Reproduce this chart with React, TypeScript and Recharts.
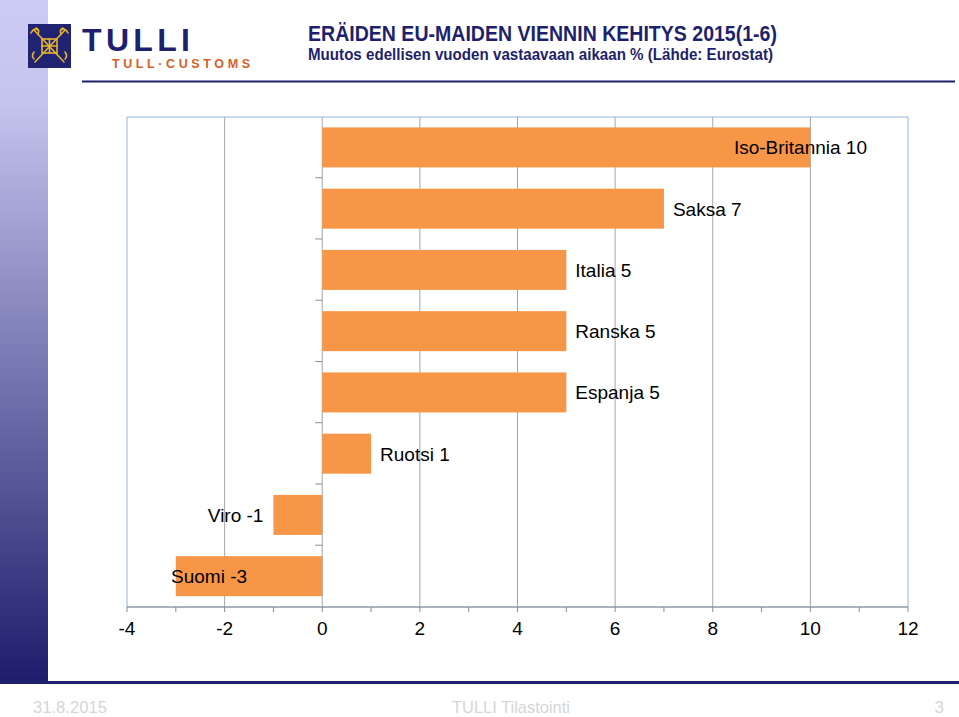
import React from 'react';
import { BarChart, Bar, XAxis, YAxis, CartesianGrid, ReferenceArea, LabelList } from 'recharts';

// vienti 2015(1-6), muutos % edellisen vuoden vastaavaan aikaan
const countries = ['Iso-Britannia', 'Saksa', 'Italia', 'Ranska', 'Espanja', 'Ruotsi', 'Viro', 'Suomi'];
const changes = [10, 7, 5, 5, 5, 1, -1, -3];
const xTicks = [-4, -3, -2, -1, 0, 1, 2, 3, 4, 5, 6, 7, 8, 9, 10, 11, 12];
const gridValues = [-2, 0, 2, 4, 6, 8, 10];

const FONT = '"Liberation Sans", Arial, Helvetica, sans-serif';
const NAVY = '#1e1f6d';
const BAR_COLOR = '#F79646';
const GRID_COLOR = '#a6a6a6';

const W = 959;
const H = 717;
const MARGIN = { top: 117, right: 51, left: 127, bottom: 80 };
const PLOT_LEFT = MARGIN.left;
const PLOT_RIGHT = W - MARGIN.right;
const GAP = 0.17;

const data = countries.map((name, i) => ({ name, change: changes[i] }));

const BarWithTick = (props: any) => {
  const { x, y, width, height, index } = props;
  const left = Math.min(x, x + width);
  const right = Math.max(x, x + width);
  const zeroX = changes[index] >= 0 ? left : right;
  // category axis tick between this bar and the next one
  const tickY = y + height + (height * GAP) / (1 - 2 * GAP);
  return (
    <g>
      <rect x={left} y={y} width={right - left} height={height} fill={BAR_COLOR} />
      {index < countries.length - 1 ? (
        <line x1={zeroX - 7} x2={zeroX} y1={tickY} y2={tickY} stroke="#8c8c8c" strokeWidth={1} />
      ) : null}
    </g>
  );
};

const BarLabel = (props: any) => {
  const { x, y, width, height, index } = props;
  const value = changes[index];
  const text = `${countries[index]} ${value}`;
  const estWidth = text.length * 8.4;
  const left = Math.min(x, x + width);
  const right = Math.max(x, x + width);
  const cy = y + height / 2;
  let lx: number;
  let anchor: 'start' | 'end';
  if (value >= 0) {
    lx = right + 9;
    anchor = 'start';
    if (lx + estWidth > PLOT_RIGHT - 41) {
      lx = PLOT_RIGHT - 41;
      anchor = 'end';
    }
  } else {
    lx = left - 10;
    anchor = 'end';
    if (lx - estWidth < PLOT_LEFT + 44) {
      lx = PLOT_LEFT + 44;
      anchor = 'start';
    }
  }
  return (
    <text x={lx} y={cy} dy="0.36em" textAnchor={anchor} fontSize={19} fontFamily={FONT} fill="#000">
      {text}
    </text>
  );
};

const Emblem = () => (
  <g>
    <rect x={28} y={24} width={43} height={44} fill="#1f2372" />
    <g stroke="#e6b62a" strokeWidth={1.6} fill="none" strokeLinecap="round">
      <line x1={34} y1={30} x2={64} y2={62} />
      <line x1={65} y1={30} x2={35} y2={62} />
      <rect x={42} y={39} width={15} height={14} />
      <line x1={42} y1={46} x2={57} y2={46} />
      <line x1={49.5} y1={39} x2={49.5} y2={53} />
      <path d="M31 33 q3 -6 7 -3 M36 28 q4 2 2 6" />
      <path d="M68 33 q-3 -6 -7 -3 M63 28 q-4 2 -2 6" />
      <path d="M34 52 q-3 4 0 7 M65 52 q3 4 0 7" />
    </g>
  </g>
);

const Slide = () => (
  <svg width={W} height={H} style={{ position: 'absolute', left: 0, top: 0 }}>
    <defs>
      <linearGradient id="sidebar" x1="0" y1="0" x2="0" y2="1">
        <stop offset="0" stopColor="#cbcbf5" />
        <stop offset="0.15" stopColor="#c4c4ee" />
        <stop offset="1" stopColor="#1d1d6c" />
      </linearGradient>
    </defs>
    <rect x={0} y={0} width={W} height={H} fill="#fff" />
    <rect x={0} y={0} width={48} height={682} fill="url(#sidebar)" />
    <rect x={0} y={681} width={W} height={3} fill={NAVY} />
    <Emblem />
    <text x={82} y={51} fontSize={32} fontWeight="bold" fontFamily={FONT} fill={NAVY} textLength={108} lengthAdjust="spacing">
      TULLI
    </text>
    <text x={112} y={68} fontSize={12.5} fontWeight="bold" fontFamily={FONT} fill="#d4612a" textLength={138} lengthAdjust="spacing">
      TULL·CUSTOMS
    </text>
    <text x={308} y={41} fontSize={22} fontWeight="bold" fontFamily={FONT} fill={NAVY} textLength={469} lengthAdjust="spacingAndGlyphs">
      ERÄIDEN EU-MAIDEN VIENNIN KEHITYS 2015(1-6)
    </text>
    <text x={308} y={60} fontSize={16} fontWeight="bold" fontFamily={FONT} fill={NAVY} textLength={465} lengthAdjust="spacingAndGlyphs">
      Muutos edellisen vuoden vastaavaan aikaan % (Lähde: Eurostat)
    </text>
    <line x1={82} x2={955} y1={81.5} y2={81.5} stroke={NAVY} strokeWidth={2} />
    <g fontFamily={FONT} fontSize={17} fill="#d6d6d6">
      <text x={33} y={713} textLength={74} lengthAdjust="spacingAndGlyphs">31.8.2015</text>
      <text x={452} y={713} textLength={118} lengthAdjust="spacingAndGlyphs">TULLI Tilastointi</text>
      <text x={944} y={713} textAnchor="end">3</text>
    </g>
  </svg>
);

export default function App() {
  return (
    <div style={{ position: 'absolute', left: 0, top: 0, width: W, height: H, fontFamily: FONT }}>
      <Slide />
      <div style={{ position: 'absolute', left: 0, top: 0 }}>
        <BarChart width={W} height={H} data={data} layout="vertical" margin={MARGIN} barCategoryGap={`${GAP * 100}%`}>
          <CartesianGrid horizontal={false} verticalValues={gridValues} stroke={GRID_COLOR} />
          <ReferenceArea x1={-4} x2={12} fill="none" stroke="#95b3d7" strokeWidth={1} />
          <XAxis
            type="number"
            domain={[-4, 12]}
            ticks={xTicks}
            interval={0}
            height={30}
            tickSize={5}
            tickMargin={10}
            stroke="#8c8c8c"
            tick={{ fill: '#000', fontSize: 19, fontFamily: FONT }}
            tickFormatter={(v: number) => (v % 2 === 0 ? String(v) : '')}
          />
          <YAxis type="category" dataKey="name" hide />
          <Bar dataKey="change" isAnimationActive={false} shape={(p: any) => <BarWithTick {...p} />}>
            <LabelList dataKey="change" content={(p: any) => <BarLabel {...p} />} />
          </Bar>
        </BarChart>
      </div>
    </div>
  );
}
